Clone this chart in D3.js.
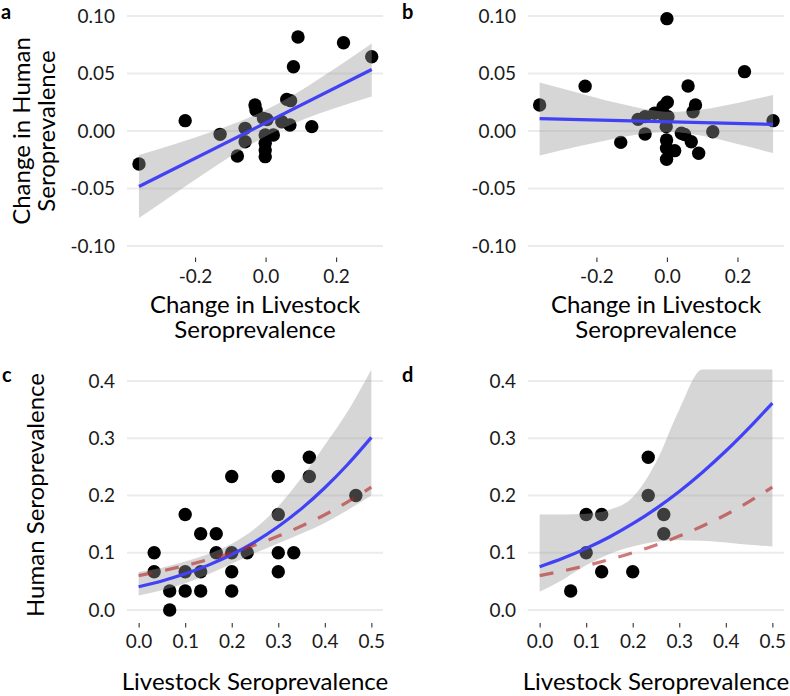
<!DOCTYPE html>
<html><head><meta charset="utf-8">
<script src="https://cdn.jsdelivr.net/npm/d3@7"></script>
<style>
body{margin:0;background:#fff}
text{font-family:Lato,"Open Sans",sans-serif}
</style>
</head><body>
<svg id="chart" width="790" height="696"></svg>
<script>
// ---------- DATA ----------
// Panel a: change in livestock vs change in human seroprevalence
const aX = [-0.359,-0.228,-0.129,-0.080,-0.058,-0.058,-0.030,-0.027,-0.006,0.004,-0.001,-0.001,-0.001,-0.001,0.022,0.046,0.069,0.060,0.071,0.079,0.092,0.131,0.221,0.301];
const aY = [-0.0287,0.0090,-0.0029,-0.0217,0.0023,-0.0093,0.0226,0.0180,0.0110,0.0100,-0.0035,-0.0107,-0.0165,-0.0223,-0.0035,0.0081,0.0052,0.0275,0.0264,0.0559,0.0818,0.0038,0.0768,0.0646];
const aFitX = [-0.359,0.301];
const aFitY = [-0.0483,0.0535];
const aBandX  = [-0.359,-0.25,-0.15,-0.05,0.01,0.10,0.20,0.301];
const aBandLo = [-0.0757,-0.0528,-0.0321,-0.0131,-0.0031,0.0092,0.0203,0.0300];
const aBandHi = [-0.0208,-0.0106,-0.0005,0.0113,0.0197,0.0352,0.0549,0.0760];

// Panel b
const bX = [-0.361,-0.232,-0.131,-0.082,-0.062,-0.062,-0.035,-0.011,0.001,-0.007,0.003,-0.002,-0.001,-0.001,-0.001,0.022,0.041,0.050,0.060,0.074,0.081,0.069,0.090,0.130,0.220,0.301,0.000];
const bY = [0.0226,0.0390,-0.0099,0.0101,-0.0026,0.0125,0.0154,0.0212,0.0250,0.0125,0.0125,0.0038,-0.0078,-0.0150,-0.0246,-0.0171,-0.0020,-0.0030,0.0391,0.0168,0.0226,-0.0093,-0.0194,-0.0006,0.0516,0.0090,0.0977];
const bFitX = [-0.361,0.301];
const bFitY = [0.0107,0.0058];
const bBandX  = [-0.361,-0.25,-0.15,-0.05,0.01,0.10,0.20,0.301];
const bBandLo = [-0.0214,-0.0133,-0.0067,-0.0017,-0.0009,-0.0042,-0.0114,-0.0192];
const bBandHi = [0.0422,0.0331,0.0249,0.0185,0.0167,0.0188,0.0244,0.0313];

// Panel c: livestock vs human seroprevalence
const cX = [0.0333,0.0333,0.0667,0.0667,0.1,0.1,0.1,0.1333,0.1333,0.1333,0.1667,0.1667,0.2,0.2,0.2,0.2,0.2333,0.3,0.3,0.3,0.3,0.3333,0.3667,0.3667,0.4667];
const cY = [0.1,0.0667,0.0333,0.0,0.1667,0.0667,0.0333,0.1333,0.0667,0.0333,0.1333,0.1,0.2333,0.1,0.0667,0.0333,0.1,0.2333,0.1667,0.1,0.0667,0.1,0.2667,0.2333,0.2];
// Panel d
const dX = [0.0667,0.1,0.1,0.1333,0.1333,0.2,0.2333,0.2333,0.2667,0.2667];
const dY = [0.0333,0.1667,0.1,0.1667,0.0667,0.0667,0.2667,0.2,0.1667,0.1333];

// Curves for c and d (shared x grid)
const curveX = [0,0.05,0.10,0.15,0.20,0.25,0.30,0.35,0.40,0.45,0.50];
const cFit = [0.0407,0.0508,0.0632,0.0784,0.0969,0.1192,0.1458,0.1771,0.2135,0.2550,0.3015];
const cLo  = [0.0255,0.0346,0.0469,0.0625,0.0808,0.0994,0.1167,0.1338,0.1520,0.1750,0.2000];
const cHi  = [0.0665,0.0739,0.0847,0.0979,0.1158,0.1423,0.1807,0.2308,0.2880,0.3480,0.4200];
const dFit = [0.0756,0.0903,0.1076,0.1275,0.1507,0.1771,0.2070,0.2407,0.2777,0.3182,0.3615];
const dLo  = [0.0320,0.0530,0.0780,0.0980,0.1110,0.1190,0.1220,0.1210,0.1180,0.1140,0.1110];
const dHi  = [0.1670,0.1670,0.1680,0.1750,0.1970,0.2580,0.3500,0.4200,0.4200,0.4200,0.4200];
const refCurve = [0.0600,0.0682,0.0775,0.0881,0.0999,0.1136,0.1291,0.1467,0.1664,0.1892,0.2147];

const yTicksTop = [-0.10,-0.05,0.00,0.05,0.10];
const xTicksTop = [-0.2,0.0,0.2];
const yTicksBot = [0.0,0.1,0.2,0.3,0.4];
const xTicksBot = [0.0,0.1,0.2,0.3,0.4,0.5];

// ---------- DRAW ----------
const svg = d3.select("#chart");
const BLUE = "#4141F5";
const TICK_FS = 19, TITLE_FS = 24;

function panel(o){
  const g = svg.append("g");
  const x = d3.scaleLinear().domain(o.xDom).range(o.xRange);
  const y = d3.scaleLinear().domain(o.yDom).range(o.yRange);
  // gridlines
  g.selectAll(".grid").data(o.yTicks).join("line")
    .attr("x1", o.xRange[0]).attr("x2", o.xRange[1])
    .attr("y1", d=>y(d)).attr("y2", d=>y(d))
    .attr("stroke", "#EBEBEB").attr("stroke-width", 2);
  // y axis (labels only)
  const ya = g.append("g").attr("transform",`translate(${o.xRange[0]},0)`)
    .call(d3.axisLeft(y).tickValues(o.yTicks).tickFormat(o.yFmt).tickSize(0).tickPadding(12));
  ya.select(".domain").remove();
  ya.selectAll("text").attr("font-size",TICK_FS).attr("fill","#1a1a1a").attr("font-family","Lato");
  // x axis
  const xa = g.append("g").attr("transform",`translate(0,${o.xAxisY})`)
    .call(d3.axisBottom(x).tickValues(o.xTicks).tickFormat(d3.format(".1f")).tickSize(4.5).tickPadding(7.5));
  xa.select(".domain").remove();
  xa.selectAll("line").attr("stroke","#333").attr("stroke-width",1.1);
  xa.selectAll("text").attr("font-size",TICK_FS).attr("fill","#1a1a1a").attr("font-family","Lato")
    .text(d => d3.format(".1f")(d).replace("−","-"));
  // points
  g.selectAll(".pt").data(o.px.map((v,i)=>[v,o.py[i]])).join("circle")
    .attr("cx",d=>x(d[0])).attr("cy",d=>y(d[1])).attr("r",6.7).attr("fill","#000");
  // band
  const band = o.bandX.map((v,i)=>({x:v,lo:o.bandLo[i],hi:o.bandHi[i]}));
  g.append("path").datum(band)
    .attr("d", d3.area().x(d=>x(d.x)).y0(d=>y(d.lo)).y1(d=>y(d.hi)).curve(d3.curveMonotoneX))
    .attr("fill","#999").attr("fill-opacity",0.4);
  // fit
  const fit = o.fitX.map((v,i)=>[v,o.fitY[i]]);
  g.append("path").datum(fit)
    .attr("d", d3.line().x(d=>x(d[0])).y(d=>y(d[1])).curve(d3.curveMonotoneX))
    .attr("fill","none").attr("stroke",BLUE).attr("stroke-width",3.2);
  if(o.ref){
    const ref = o.fitX.map((v,i)=>[v,o.ref[i]]);
    g.append("path").datum(ref)
      .attr("d", d3.line().x(d=>x(d[0])).y(d=>y(d[1])).curve(d3.curveMonotoneX))
      .attr("fill","none").attr("stroke","#B22222").attr("stroke-opacity",0.6)
      .attr("stroke-width",3.2).attr("stroke-dasharray","14,13");
  }
  // panel letter
  g.append("text").attr("x",o.tag[1]).attr("y",o.tag[2]).text(o.tag[0])
    .attr("font-size",20).attr("font-weight","bold").attr("fill","#000");
  // x title
  const cx = (o.xRange[0]+o.xRange[1])/2;
  o.xTitle.forEach((t,i)=>{
    g.append("text").attr("x",cx).attr("y",o.xTitleY+i*25).attr("text-anchor","middle")
      .attr("font-size",TITLE_FS).attr("fill","#000").text(t);
  });
  if(o.yTitle){
    o.yTitle.forEach((t,i)=>{
      g.append("text").attr("transform",`translate(${o.yTitleX+i*25},${o.yTitleMid}) rotate(-90)`)
        .attr("text-anchor","middle").attr("font-size",TITLE_FS).attr("fill","#000").text(t);
    });
  }
}

const fmt2 = d => d3.format(".2f")(d).replace("−","-");
const fmt1 = d => d3.format(".1f")(d);

panel({xDom:[-0.393,0.333], xRange:[127,383], yDom:[-0.1,0.1], yRange:[246,16],
  yTicks:yTicksTop, yFmt:fmt2, xTicks:xTicksTop, xAxisY:257.5,
  px:aX, py:aY, bandX:aBandX, bandLo:aBandLo, bandHi:aBandHi, fitX:aFitX, fitY:aFitY,
  tag:["a",1,19], xTitle:["Change in Livestock","Seroprevalence"], xTitleY:312.5,
  yTitle:["Change in Human","Seroprevalence"], yTitleX:30, yTitleMid:131});
panel({xDom:[-0.394,0.332], xRange:[528,784], yDom:[-0.1,0.1], yRange:[246,16],
  yTicks:yTicksTop, yFmt:fmt2, xTicks:xTicksTop, xAxisY:257.5,
  px:bX, py:bY, bandX:bBandX, bandLo:bBandLo, bandHi:bBandHi, fitX:bFitX, fitY:bFitY,
  tag:["b",402,19], xTitle:["Change in Livestock","Seroprevalence"], xTitleY:312.5});
panel({xDom:[-0.025,0.525], xRange:[127,383], yDom:[0,0.4], yRange:[610,381],
  yTicks:yTicksBot, yFmt:fmt1, xTicks:xTicksBot, xAxisY:623,
  px:cX, py:cY, bandX:curveX, bandLo:cLo, bandHi:cHi, fitX:curveX, fitY:cFit, ref:refCurve,
  tag:["c",2,382], xTitle:["Livestock Seroprevalence"], xTitleY:690,
  yTitle:["Human Seroprevalence"], yTitleX:44, yTitleMid:495});
panel({xDom:[-0.025,0.525], xRange:[528,784], yDom:[0,0.4], yRange:[610,381],
  yTicks:yTicksBot, yFmt:fmt1, xTicks:xTicksBot, xAxisY:623,
  px:dX, py:dY, bandX:curveX, bandLo:dLo, bandHi:dHi, fitX:curveX, fitY:dFit, ref:refCurve,
  tag:["d",402,382], xTitle:["Livestock Seroprevalence"], xTitleY:690});
</script>
</body></html>
